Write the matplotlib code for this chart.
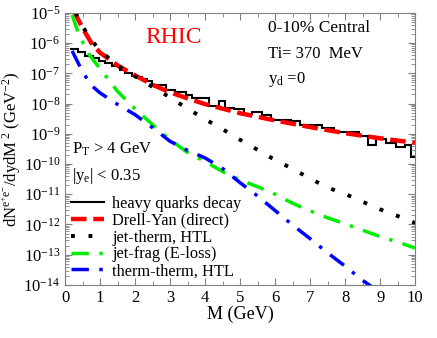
import numpy as np
import matplotlib
matplotlib.use('Agg')
import matplotlib.pyplot as plt
from matplotlib.ticker import LogLocator, MultipleLocator, NullFormatter

plt.rcParams['font.family'] = ['Liberation Serif', 'DejaVu Serif']
plt.rcParams['mathtext.fontset'] = 'custom'
plt.rcParams['mathtext.rm'] = 'Liberation Serif'
plt.rcParams['mathtext.it'] = 'Liberation Serif:italic'

# heavy quarks decay histogram (log10 values)
hq_edges = [0.15, 0.38, 0.57, 0.8, 0.96, 1.15, 1.34, 1.58, 1.72, 1.91,
            2.05, 2.2, 2.34, 2.48, 2.87, 3.15, 3.44, 3.63, 4.1, 4.39,
            4.58, 4.82, 5.11, 5.35, 5.63, 5.87, 6.44, 6.7, 7.35, 7.69,
            8.41, 8.65, 8.89, 9.17, 9.46, 9.7, 9.89, 10.0]
hq_log = [-6.19, -6.28, -6.42, -6.5, -6.58, -6.67, -6.75, -6.89, -7.0, -7.09,
          -7.11, -7.2, -7.27, -7.38, -7.55, -7.62, -7.73, -7.81, -8.09, -7.92,
          -8.15, -8.17, -8.34, -8.28, -8.37, -8.53, -8.57, -8.72, -8.8, -8.94,
          -9.07, -9.38, -9.16, -9.3, -9.44, -9.38, -9.77]

# Drell-Yan (direct)
dy_M = [0.25, 0.5, 0.75, 1.0, 1.5, 2.0, 2.5, 3.0, 3.5, 4.0, 5.0, 6.0, 7.0, 8.0, 9.0, 10.0]
dy_log = [-4.95, -5.5, -6.0, -6.32, -6.74, -7.07, -7.38, -7.63, -7.83, -8.02,
          -8.32, -8.56, -8.78, -8.98, -9.15, -9.3]

# jet-therm, HTL
jt_M = [0.3, 0.5, 0.75, 1.0, 1.5, 2.0, 2.5, 3.0, 3.5, 4.0, 4.5, 5.0, 5.5,
        6.0, 6.5, 7.0, 7.5, 8.0, 8.5, 9.0, 9.5, 10.0]
jt_log = [-5.0, -5.45, -5.9, -6.25, -6.75, -7.1, -7.45, -7.8, -8.17, -8.52,
          -8.85, -9.2, -9.53, -9.87, -10.16, -10.48, -10.78, -10.99, -11.25,
          -11.5, -11.72, -11.95]

# jet-frag (E-loss)
jf_M = [0.2, 0.4, 0.7, 1.0, 1.5, 2.0, 2.5, 3.0, 3.5, 4.0, 4.5, 5.0, 5.5,
        6.0, 6.5, 7.0, 7.5, 8.0, 8.5, 9.0, 9.5, 10.0]
jf_log = [-5.07, -5.75, -6.4, -6.85, -7.6, -8.18, -8.7, -9.2, -9.62, -9.92,
          -10.25, -10.53, -10.75, -11.0, -11.3, -11.55, -11.78, -11.98,
          -12.19, -12.4, -12.58, -12.78]

# therm-therm, HTL
tt_M = [0.2, 0.5, 0.75, 1.0, 1.5, 2.0, 2.5, 3.0, 3.5, 4.0, 4.5, 5.0, 5.5,
        6.0, 6.5, 7.0, 7.5, 8.0, 8.5, 8.75]
tt_log = [-6.26, -6.95, -7.4, -7.65, -8.03, -8.37, -8.8, -9.25, -9.55, -9.8,
          -10.15, -10.62, -11.06, -11.54, -12.02, -12.47, -12.94, -13.38,
          -13.85, -14.05]

fig = plt.figure(figsize=(4.37, 3.38), dpi=100)
ax = fig.add_axes([0.149, 0.157, 0.801, 0.805])

ax.stairs(10**np.array(hq_log), hq_edges, baseline=None, color='black', lw=1.5,
          label='heavy quarks decay')
ax.plot(dy_M, 10**np.array(dy_log), color='red', lw=3.2, ls=(0, (3.5, 1.5)),
        label='Drell-Yan (direct)')
ax.plot(jt_M, 10**np.array(jt_log), color='black', lw=2.8, ls=(0, (1, 3.5)),
        label='jet-therm, HTL')
ax.plot(jf_M, 10**np.array(jf_log), color='#00ee00', lw=2.5, ls=(0, (5, 3, 1, 3)),
        label='jet-frag (E-loss)')
ax.plot(tt_M, 10**np.array(tt_log), color='#0000ff', lw=2.5, ls=(0, (5, 3, 1, 3)),
        label='therm-therm, HTL')

ax.set_yscale('log')
ax.set_xlim(0, 10)
ax.set_ylim(1e-14, 1e-5)
ax.xaxis.set_major_locator(MultipleLocator(1))
ax.xaxis.set_minor_locator(MultipleLocator(0.5))
ax.yaxis.set_major_locator(LogLocator(base=10, numticks=20))
ax.yaxis.set_minor_locator(LogLocator(base=10, subs=np.arange(2, 10), numticks=20))
ax.yaxis.set_minor_formatter(NullFormatter())
ax.tick_params(which='both', direction='in', top=True, right=True,
               labelsize=12, colors='#808080', labelcolor='black')
ax.tick_params(which='major', length=5)
ax.tick_params(which='minor', length=3)
for s in ax.spines.values():
    s.set_color('#808080')

ax.set_xlabel('M (GeV)', fontsize=13, labelpad=0)
ax.set_ylabel(r'dN$^{\mathrm{e^{+}e^{-}}}$/dydM$^{\ 2}$ (GeV$^{\mathrm{-2}}$)',
              fontsize=12, labelpad=0)

ax.text(0.31, 0.91, 'RHIC', color='red', fontsize=17, ha='center', va='center',
        transform=ax.transAxes)
ax.text(0.58, 0.945, '0-10% Central', fontsize=12.5, va='center', transform=ax.transAxes)
ax.text(0.58, 0.85, 'Ti= 370  MeV', fontsize=12, va='center', transform=ax.transAxes)
ax.text(0.58, 0.755, r'y$_{\mathrm{d}}$ =0', fontsize=12, va='center', transform=ax.transAxes)
ax.text(0.02, 0.50, r'P$_{\mathrm{T}}$ > 4 GeV', fontsize=12, va='center', transform=ax.transAxes)
ax.text(0.02, 0.40, r'|y$_{\mathrm{e}}$| < 0.35', fontsize=12, va='center', transform=ax.transAxes)

leg = ax.legend(loc='lower left', bbox_to_anchor=(-0.01, -0.015), frameon=False,
                fontsize=11.8, handlelength=2.0, handletextpad=0.5,
                labelspacing=0.05, borderaxespad=0.2)

fig.savefig('out.png', dpi=100)
